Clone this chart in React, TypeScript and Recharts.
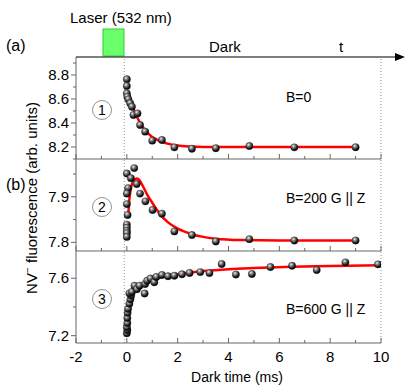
import { ComposedChart, Line, ReferenceLine, Scatter, XAxis, YAxis } from 'recharts'

const FONT = '"Liberation Sans", Arial, Helvetica, sans-serif'
const AXIS = '#666'

// dark-time axis (ms)
const timeTicks = [-2, -1, 0, 1, 2, 3, 4, 5, 6, 7, 8, 9, 10]
const laserOff = -0.1
const timeEnd = 10

// panel 1: B = 0
const zeroTime = [0, 0, 0, 0.02, 0.06, 0.13, 0.2, 0.26, 0.42, 0.52, 0.72, 1.0, 1.38, 1.87, 2.56, 3.5, 4.82, 6.59, 9.0]
const zeroSignal = [8.764, 8.708, 8.647, 8.619, 8.597, 8.564, 8.536, 8.467, 8.48, 8.383, 8.328, 8.253, 8.258, 8.197, 8.186, 8.19, 8.208, 8.197, 8.198]
const zeroFitTime = [0.05, 0.2, 0.4, 0.6, 0.8, 1.0, 1.3, 1.6, 2.0, 2.5, 3.0, 4.0, 6.0, 9.0]
const zeroFitSignal = [8.655, 8.55, 8.45, 8.375, 8.322, 8.283, 8.25, 8.228, 8.212, 8.204, 8.201, 8.2, 8.2, 8.2]
const zeroTicks = [8.1, 8.2, 8.3, 8.4, 8.5, 8.6, 8.7, 8.8, 8.9]
const zeroLabels = [8.2, 8.4, 8.6, 8.8]

// panel 2: B = 200 G || Z
const midTime = [0, 0.29, 0.16, 0.05, 0.39, 0, 0.52, 0, 0.73, 0.03, 1.01, 1.38, 0, 0, 0, 0, 0, 1.87, 2.56, 3.5, 4.82, 6.59, 9.0]
const midSignal = [7.951, 7.963, 7.941, 7.919, 7.928, 7.907, 7.907, 7.884, 7.89, 7.86, 7.871, 7.863, 7.839, 7.832, 7.825, 7.82, 7.812, 7.824, 7.816, 7.802, 7.807, 7.804, 7.804]
const midFitTime = [0.05, 0.1, 0.15, 0.2, 0.3, 0.4, 0.5, 0.6, 0.8, 1.0, 1.3, 1.6, 2.0, 2.5, 3.0, 3.5, 4.5, 6.0, 9.0]
const midFitSignal = [7.855, 7.895, 7.915, 7.928, 7.937, 7.94, 7.936, 7.927, 7.905, 7.887, 7.862, 7.845, 7.83, 7.819, 7.812, 7.808, 7.805, 7.804, 7.804]
const midTicks = [7.8, 7.85, 7.9, 7.95]
const midLabels = [7.8, 7.9]

// panel 3: B = 600 G || Z
const highTime = [0, 0.02, 0, 0.02, 0.02, 0.03, 0.05, 0.1, 0.14, 0.17, 0.1, 0.2, 0.3, 0.4, 0.5, 0.7, 0.72, 0.8, 0.93, 1.08, 1.16, 1.38, 1.62, 1.87, 2.17, 2.47, 2.89, 3.25, 3.73, 4.29, 4.92, 5.65, 6.5, 7.47, 8.6, 9.88]
const highSignal = [7.217, 7.24, 7.26, 7.288, 7.323, 7.359, 7.387, 7.423, 7.453, 7.48, 7.495, 7.505, 7.548, 7.524, 7.548, 7.494, 7.56, 7.583, 7.598, 7.572, 7.609, 7.623, 7.614, 7.618, 7.628, 7.637, 7.643, 7.636, 7.699, 7.626, 7.63, 7.678, 7.687, 7.657, 7.711, 7.697]
const highFitTime = [0.02, 0.05, 0.1, 0.2, 0.3, 0.4, 0.6, 0.8, 1.0, 1.3, 1.6, 2.0, 2.5, 3.0, 4.0, 5.0, 6.5, 8.0, 10.0]
const highFitSignal = [7.23, 7.32, 7.4, 7.465, 7.505, 7.53, 7.557, 7.576, 7.59, 7.605, 7.617, 7.628, 7.641, 7.65, 7.663, 7.671, 7.68, 7.686, 7.69]
const highTicks = [7.2, 7.4, 7.6]
const highLabels = [7.2, 7.6]

const zip = (t: number[], v: number[]) => t.map((x, i) => ({ t: x, v: v[i] }))

function Ball(props: any) {
  const { cx, cy } = props
  if (cx == null || cy == null) return <g />
  return <circle cx={cx} cy={cy} r={3.7} fill="url(#ball)" stroke="#111" strokeWidth={0.3} />
}

function XTick({ x, y, payload, showLabel }: any) {
  const v = payload.value
  const major = v % 2 === 0
  return (
    <g>
      <line x1={x} x2={x} y1={y} y2={y - (major ? 5 : 3)} stroke={AXIS} />
      {showLabel && major && (
        <text x={x} y={y + 19} textAnchor="middle" fontSize={15} fontFamily={FONT} fill="#000">
          {v}
        </text>
      )}
    </g>
  )
}

function YTick({ x, y, payload, labels }: any) {
  const v = payload.value
  const major = labels.includes(v)
  return (
    <g>
      <line x1={x} x2={x - (major ? 5 : 3)} y1={y} y2={y} stroke={AXIS} />
      {major && (
        <text x={x - 7} y={y + 5} textAnchor="end" fontSize={15} fontFamily={FONT} fill="#000">
          {v.toFixed(1)}
        </text>
      )}
    </g>
  )
}

function Panel({ top, plotHeight, axisHeight, domain, ticks, labels, points, fit, showX }: any) {
  return (
    <div style={{ position: 'absolute', left: 0, top: top - 2 }}>
      <ComposedChart width={415} height={2 + plotHeight + axisHeight} margin={{ top: 2, right: 34, bottom: 0, left: 0 }}>
        <XAxis
          type="number"
          dataKey="t"
          domain={[-2, 10]}
          ticks={timeTicks}
          interval={0}
          allowDataOverflow
          height={axisHeight}
          tickSize={0}
          tickMargin={0}
          tickLine={false}
          axisLine={{ stroke: AXIS }}
          tick={(p: any) => <XTick {...p} showLabel={showX} />}
        />
        <YAxis
          type="number"
          dataKey="v"
          domain={domain}
          ticks={ticks}
          interval={0}
          allowDataOverflow
          width={76}
          tickSize={0}
          tickMargin={0}
          tickLine={false}
          axisLine={{ stroke: AXIS }}
          tick={(p: any) => <YTick {...p} labels={labels} />}
        />
        <ReferenceLine x={laserOff} stroke="#999" strokeDasharray="1 2" />
        <ReferenceLine x={timeEnd} stroke="#888" strokeDasharray="1 2" />
        <Scatter data={points} dataKey="v" shape={Ball} isAnimationActive={false} />
        <Line
          data={fit}
          dataKey="v"
          type="monotone"
          stroke="#ff0000"
          strokeWidth={2.5}
          dot={false}
          activeDot={false}
          isAnimationActive={false}
        />
      </ComposedChart>
    </div>
  )
}

function Circled({ x, y, n }: { x: number; y: number; n: string }) {
  return (
    <g>
      <circle cx={x} cy={y} r={9.5} fill="none" stroke="#777" strokeWidth={0.8} />
      <text x={x} y={y + 5} textAnchor="middle" fontSize={14}>{n}</text>
    </g>
  )
}

export default function App() {
  return (
    <div style={{ position: 'absolute', left: 0, top: 0, width: 415, height: 388, background: '#fff', fontFamily: FONT }}>
      <svg width={0} height={0} style={{ position: 'absolute' }}>
        <defs>
          <radialGradient id="ball" cx="38%" cy="32%" r="68%">
            <stop offset="0%" stopColor="#f4f4f4" />
            <stop offset="30%" stopColor="#8a8a8a" />
            <stop offset="75%" stopColor="#1a1a1a" />
            <stop offset="100%" stopColor="#000" />
          </radialGradient>
        </defs>
      </svg>
      <Panel top={57} plotHeight={102} axisHeight={1} domain={[8.1, 8.95]} ticks={zeroTicks} labels={zeroLabels}
        points={zip(zeroTime, zeroSignal)} fit={zip(zeroFitTime, zeroFitSignal)} showX={false} />
      <Panel top={159} plotHeight={92} axisHeight={1} domain={[7.781, 7.983]} ticks={midTicks} labels={midLabels}
        points={zip(midTime, midSignal)} fit={zip(midFitTime, midFitSignal)} showX={false} />
      <Panel top={251} plotHeight={92} axisHeight={45} domain={[7.149, 7.79]} ticks={highTicks} labels={highLabels}
        points={zip(highTime, highSignal)} fit={zip(highFitTime, highFitSignal)} showX={true} />
      <svg width={415} height={388} style={{ position: 'absolute', left: 0, top: 0, pointerEvents: 'none' }} fontFamily={FONT}>
        <text x={6} y={51} fontSize={16}>(a)</text>
        <text x={6} y={190} fontSize={16}>(b)</text>
        <text x={70} y={23} fontSize={15}>Laser (532 nm)</text>
        <rect x={103} y={29} width={21} height={27} fill="#6cff6c" stroke="#33cc33" />
        <text x={209} y={52} fontSize={15}>Dark</text>
        <text x={339} y={52} fontSize={15}>t</text>
        <line x1={76} y1={57} x2={398} y2={57} stroke="#000" strokeWidth={1.2} />
        <polygon points="395,53 405,57 395,61" fill="#000" />
        <text transform="rotate(-90 37 198)" x={37} y={198} textAnchor="middle" fontSize={15}>
          NV<tspan fontSize={10} dy={-6}>−</tspan>
          <tspan dy={6}> fluorescence (arb. units)</tspan>
        </text>
        <Circled x={102} y={110} n="1" />
        <Circled x={102} y={207} n="2" />
        <Circled x={102} y={299} n="3" />
        <text x={286} y={102} fontSize={14}>B=0</text>
        <text x={286} y={203} fontSize={14}>B=200 G || Z</text>
        <text x={286} y={314} fontSize={14}>B=600 G || Z</text>
        <text x={237} y={382} textAnchor="middle" fontSize={14}>Dark time (ms)</text>
      </svg>
    </div>
  )
}
